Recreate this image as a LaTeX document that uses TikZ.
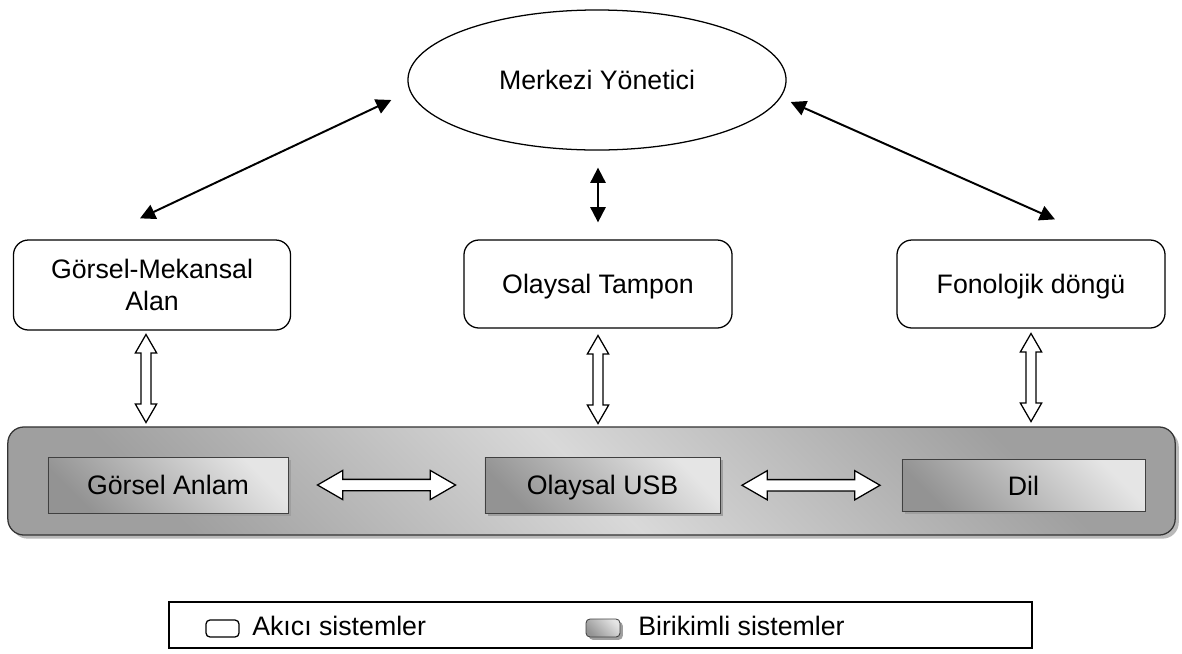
\documentclass[tikz,border=0pt]{standalone}
\usepackage{fontspec}
\setmainfont{Liberation Sans}
\usetikzlibrary{shapes.geometric, shapes.arrows, shadows, arrows.meta, calc}

\tikzset{
  boxfont/.style={font=\fontsize{19}{23}\selectfont},
  oneline/.style={text height=0.48cm, text depth=0pt},
  fluid/.style={draw, rounded corners=0.375cm, line width=0.9pt, align=center, boxfont},
  stored/.style={draw=gray!50!black, line width=0.6pt, bottom color=gray!85, top color=gray!20, shading angle=-45,
    drop shadow={shadow xshift=0.07cm, shadow yshift=-0.07cm, fill=gray!75, opacity=1}, boxfont, oneline},
  memory/.style={draw=gray!40!black, line width=0.9pt, rounded corners=0.4cm,
    top color=gray!75, bottom color=gray!75, middle color=gray!30, shading angle=-45,
    drop shadow={shadow xshift=0.09cm, shadow yshift=-0.09cm, fill=gray!55, opacity=1}},
  linkarrow/.style={line width=1.4pt, {Triangle[length=0.38cm,width=0.38cm]}-{Triangle[length=0.38cm,width=0.38cm]}},
  hollowarrow/.style={double arrow, draw, fill=white, line width=0.9pt, inner xsep=0pt, double arrow tip angle=60},
}

\begin{document}
\begin{tikzpicture}[x=0.025cm, y=-0.025cm]
  \useasboundingbox (0,0) rectangle (1182,653);

  \node[draw, ellipse, line width=0.9pt, minimum width=9.45cm, minimum height=3.5cm, boxfont, oneline] at (597,80) (me) {Merkezi Yönetici};

  \node[fluid, minimum width=6.925cm, minimum height=2.25cm] at (152,285) (gm) {Görsel-Mekansal\\Alan};
  \node[fluid, oneline, minimum width=6.7cm, minimum height=2.2cm] at (598,284) (ot) {Olaysal Tampon};
  \node[fluid, oneline, minimum width=6.7cm, minimum height=2.2cm] at (1031,284) (fd) {Fonolojik döngü};

  \draw[linkarrow] ($(me.west)+(-16,20)$) -- ($(gm.north)+(-12,-21)$);
  \draw[linkarrow] ($(me.south)+(1,17)$) -- ($(ot.north)+(0,-17)$);
  \draw[linkarrow] ($(me.east)+(4,22)$) -- ($(fd.north)+(24,-20)$);

  % long-term stores
  \node[memory, minimum width=29.175cm, minimum height=2.7cm] at (591.5,481) (mem) {};
  \node[stored, minimum width=6cm, minimum height=1.4cm] at (168,485) (ga) {Görsel Anlam};
  \node[stored, minimum width=5.875cm, minimum height=1.4cm] at (602.5,485) (ou) {Olaysal USB};
  \node[stored, minimum width=6.075cm, minimum height=1.3cm] at (1023.5,485.5) (dil) {Dil};

  \node[hollowarrow, rotate=90, minimum height=2.2cm, inner ysep=0.11cm, double arrow head extend=0.14cm] at ($(gm.south)!0.5!(gm.south|-mem.north)+(-6,0)$) (gmlink) {};
  \node[hollowarrow, rotate=90, minimum height=2.2cm, inner ysep=0.11cm, double arrow head extend=0.14cm] at ($(ot.south)!0.5!(ot.south|-mem.north)+(0,2)$) (otlink) {};
  \node[hollowarrow, rotate=90, minimum height=2.2cm, inner ysep=0.11cm, double arrow head extend=0.14cm] at ($(fd.south)!0.5!(fd.south|-mem.north)$) (fdlink) {};

  \node[hollowarrow, minimum height=3.45cm, inner ysep=0.125cm, double arrow head extend=0.225cm] at ($(ga.east)!0.5!(ou.west)$) (gaou) {};
  \node[hollowarrow, minimum height=3.45cm, inner ysep=0.125cm, double arrow head extend=0.225cm] at ($(ou.east)!0.5!(dil.west)$) (oudil) {};

  % legend
  \node[draw, line width=0.9pt, minimum width=21.575cm, minimum height=1.15cm] at (600.5,625) (legend) {};
  \node[fluid, rounded corners=0.1cm, minimum width=0.825cm, minimum height=0.425cm] at (222.5,628.5) (akicibox) {};
  \node[anchor=base west, inner sep=0pt, boxfont] at (252,635) (akici) {Akıcı sistemler};
  \node[stored, text height=0pt, inner sep=0pt, rounded corners=0.1cm, minimum width=0.85cm, minimum height=0.45cm] at (603,628) (birikimlibox) {};
  \node[anchor=base west, inner sep=0pt, boxfont] at (638,635) (birikimli) {Birikimli sistemler};
\end{tikzpicture}
\end{document}
